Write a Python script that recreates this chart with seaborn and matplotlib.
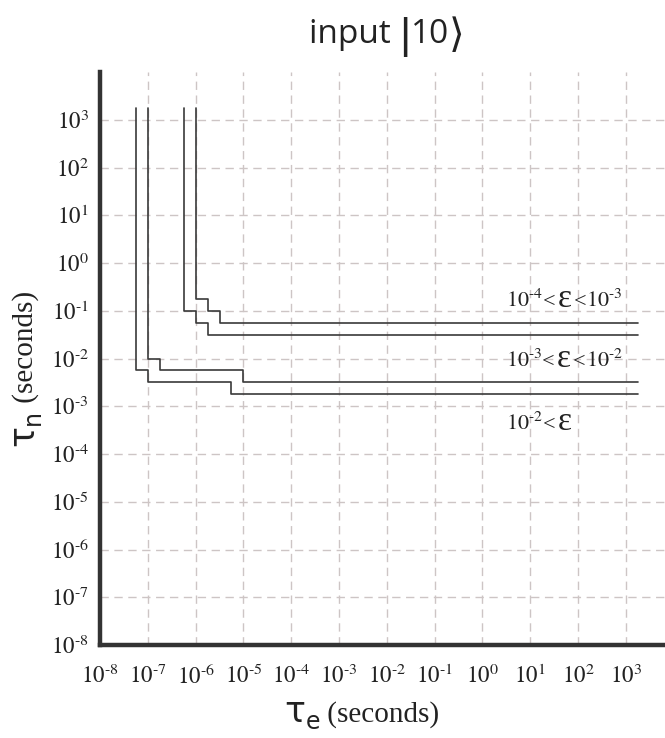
import matplotlib
matplotlib.use("Agg")
import matplotlib.pyplot as plt
import matplotlib.transforms as mtransforms
import seaborn as sns
import pandas as pd

# ---- data ----
# each boundary is a staircase: vertical at x[i] from y[i] down to y[i+1], then horizontal
c1_x = [1.0e-6, 1.778e-6, 3.162e-6, 1778.0]
c1_y = [1778.0, 0.1778, 0.1, 0.05623]
c2_x = [5.623e-7, 1.0e-6, 1.778e-6, 1778.0]
c2_y = [1778.0, 0.1, 0.05623, 0.03162]
c3_x = [1.0e-7, 1.778e-7, 1.0e-5, 1778.0]
c3_y = [1778.0, 0.01, 0.005623, 0.003162]
c4_x = [5.623e-8, 1.0e-7, 5.623e-6, 1778.0]
c4_y = [1778.0, 0.005623, 0.003162, 0.001778]

tick_vals = [1e-8, 1e-7, 1e-6, 1e-5, 1e-4, 1e-3, 1e-2, 1e-1, 1e0, 1e1, 1e2, 1e3]
tick_labels = [r"$10^{\text{-}8}$", r"$10^{\text{-}7}$", r"$10^{\text{-}6}$", r"$10^{\text{-}5}$",
               r"$10^{\text{-}4}$", r"$10^{\text{-}3}$", r"$10^{\text{-}2}$", r"$10^{\text{-}1}$",
               r"$10^{0}$", r"$10^{1}$", r"$10^{2}$", r"$10^{3}$"]

region_lo = [r"$10^{\text{-}4}$", r"$10^{\text{-}3}$", r"$10^{\text{-}2}$"]
region_hi = [r"$10^{\text{-}3}$", r"$10^{\text{-}2}$", None]
region_label_x = [3.4, 3.4, 3.4]
region_label_y = [0.16, 0.0089, 4.3e-4]

# ---- style ----
sns.set_theme(style="white")
plt.rcParams["font.family"] = ["Liberation Serif", "DejaVu Sans"]
plt.rcParams["mathtext.fontset"] = "stix"

fig = plt.figure(figsize=(6.65, 7.38), dpi=100)
ax = fig.add_axes([0.1504, 0.126, 0.8496, 0.7764])

line_color = "#3a3a3a"
for cx, cy in [(c1_x, c1_y), (c2_x, c2_y), (c3_x, c3_y), (c4_x, c4_y)]:
    df = pd.DataFrame({"x": cx, "y": cy})
    sns.lineplot(data=df, x="x", y="y", ax=ax, sort=False, estimator=None,
                 drawstyle="steps-pre", color=line_color, linewidth=1.2)

ax.set_xscale("log")
ax.set_yscale("log")
ax.set_xlim(1e-8, 10 ** 3.82)
ax.set_ylim(1e-8, 1e4)

ax.set_xticks(tick_vals)
ax.set_xticklabels(tick_labels)
ax.set_yticks(tick_vals)
ax.set_yticklabels(tick_labels)
ax.minorticks_off()
ax.tick_params(axis="both", which="major", direction="out", length=5, width=1.8,
               color="#333333", labelsize=16.5, labelcolor="#222222", pad=3)
ax.tick_params(axis="x", pad=9)

for s in ["top", "right"]:
    ax.spines[s].set_visible(False)
for s in ["left", "bottom"]:
    ax.spines[s].set_linewidth(3.2)
    ax.spines[s].set_color("#333333")

ax.grid(True, which="major", color="#cdc5c5", linestyle=(0, (6, 4)), linewidth=1.0)
ax.set_axisbelow(True)
ax.set_xlabel("")
ax.set_ylabel("")

renderer = fig.canvas.get_renderer()
ident = mtransforms.IdentityTransform()
TXT = "#222222"


def place_pieces(x0, y0, pieces, rotation=0, align="left"):
    """pieces: (text, fontsize, family, baseline_shift_px, gap_after_px)."""
    arts = []
    for s, size, fam, shift, gap in pieces:
        t = fig.text(0, 0, s, transform=ident, fontsize=size, family=fam, color=TXT,
                     ha="left", va="baseline", rotation=rotation,
                     rotation_mode="anchor")
        arts.append((t, shift, gap))
    lengths = []
    for t, _, gap in arts:
        bb = t.get_window_extent(renderer)
        lengths.append((bb.height if rotation == 90 else bb.width) + gap)
    total = sum(lengths)
    pos = -total / 2 if align == "center" else 0.0
    for (t, shift, _), L in zip(arts, lengths):
        if rotation == 90:
            t.set_position((x0 - shift, y0 + pos))
        else:
            t.set_position((x0 + pos, y0 + shift))
        pos += L


SERIF = ["Liberation Serif", "DejaVu Sans"]
SANS = ["DejaVu Sans"]
OPEN = ["Open Sans", "DejaVu Sans"]
THIN = ["Liberation Sans", "DejaVu Sans"]

# region labels
for lx, ly, lo, hi in zip(region_label_x, region_label_y, region_lo, region_hi):
    px, py = ax.transData.transform((lx, ly))
    pieces = [(lo, 16, SERIF, 0, 0), ("<", 16, SERIF, 0, 2), ("ε", 24, SERIF, 0, 2)]
    if hi is not None:
        pieces += [("<", 16, SERIF, 0, 0), (hi, 16, SERIF, 0, 0)]
    place_pieces(px - 2, py - 6, pieces)

H = 738
# x label
place_pieces(362, H - 722, [("τ", 25, SANS, 0, 0), ("e", 17, SANS, -7, 0),
                            (" (seconds)", 21, SERIF, 0, 0)], align="center")
# y label
place_pieces(33, H - 368, [("τ", 25, SANS, 0, 0), ("n", 17, SANS, -7, 0),
                           (" (seconds)", 21, SERIF, 0, 0)], rotation=90, align="center")
# title
place_pieces(387, H - 43, [("input ", 24, OPEN, 0, 0),
                           ("|", 31, THIN, -5, 0),
                           ("10", 24, OPEN, 0, 0),
                           ("⟩", 29, SANS, -4, 0)], align="center")

fig.savefig("out.png", dpi=100)
